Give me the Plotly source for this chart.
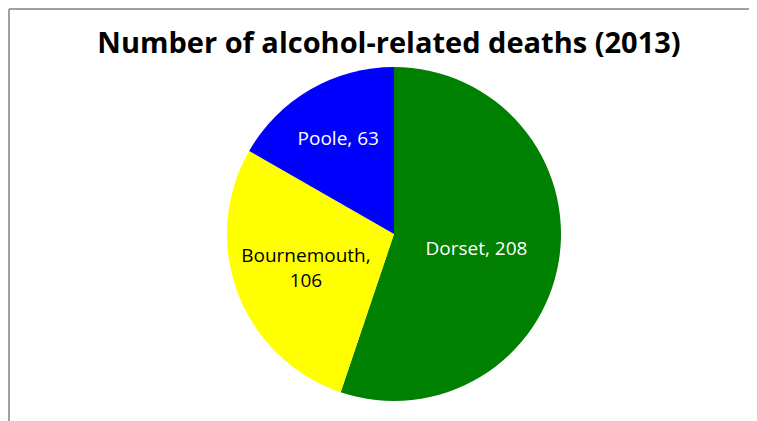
import plotly.graph_objects as go

labels = ["Dorset", "Bournemouth", "Poole"]
values = [208, 106, 63]
colors = ["#008000", "#FFFF00", "#0000FF"]
text_colors = ["white", "black", "white"]
templates = ["%{label}, %{value}", "%{label},<br>%{value}", "%{label}, %{value}"]
title = "Number of alcohol-related deaths (2013)"

# page body has an 8px margin, so the figure is drawn at (8, 8)
W, H = 749, 413
cx, cy, r = 386, 226, 167

fig = go.Figure(go.Pie(
    labels=labels, values=values, sort=False, direction="clockwise", rotation=0,
    marker=dict(colors=colors, line=dict(width=0)),
    texttemplate=templates, textinfo="text", textposition="inside",
    insidetextorientation="horizontal",
    insidetextfont=dict(color=text_colors, size=19, family="Open Sans"),
    hoverinfo="label+value", showlegend=False,
    domain=dict(x=[(cx - r) / W, (cx + r) / W], y=[(H - cy - r) / H, (H - cy + r) / H]),
))

fig.update_layout(
    width=W, height=H, margin=dict(l=0, r=0, t=0, b=0),
    paper_bgcolor="white",
    title=dict(text="<b>" + title + "</b>", x=(389 - 8) / W, xanchor="center", y=1 - 35 / H, yanchor="middle",
               font=dict(family="Open Sans", size=29, color="black")),
    shapes=[
        dict(type="line", xref="paper", yref="paper", x0=1 / W, x1=1 / W, y0=0, y1=1 - 1 / H,
             line=dict(color="#A0A0A0", width=2)),
        dict(type="line", xref="paper", yref="paper", x0=1 / W, x1=1, y0=1 - 1 / H, y1=1 - 1 / H,
             line=dict(color="#A0A0A0", width=2)),
    ],
)

fig.write_html("out.html")
